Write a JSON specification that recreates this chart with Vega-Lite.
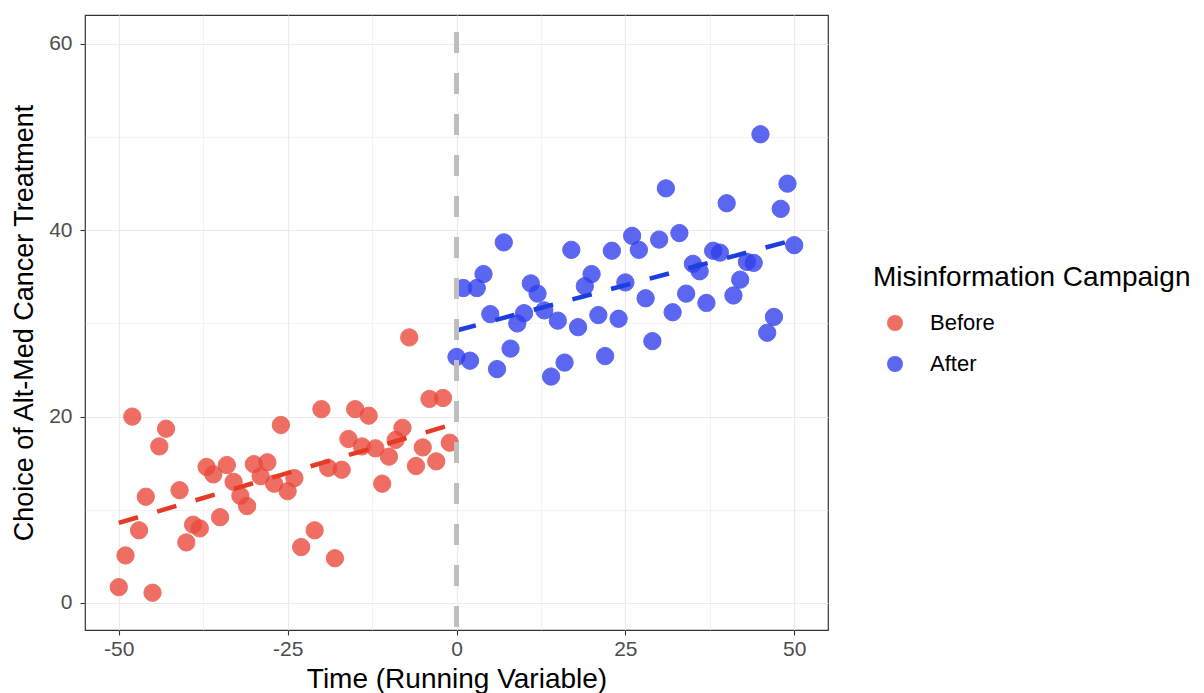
{
  "$schema": "https://vega.github.io/schema/vega-lite/v6.json",
  "width": 743,
  "height": 615,
  "autosize": {"type": "none"},
  "padding": {"left": 85, "top": 15, "right": 376, "bottom": 63},
  "background": "white",
  "config": {
    "font": "Liberation Sans",
    "view": {"stroke": "#333333", "strokeWidth": 1.2},
    "axis": {
      "domain": false,
      "tickColor": "#333333",
      "tickSize": 5,
      "tickWidth": 1.1,
      "labelColor": "#4d4d4d",
      "labelFontSize": 21,
      "titleFontSize": 27,
      "titleFontWeight": "normal",
      "titleColor": "#000000",
      "gridColor": "#ebebeb"
    },
    "legend": {
      "titleFontSize": 28,
      "titleFontWeight": "normal",
      "titleColor": "#000000",
      "titleLimit": 1000,
      "labelFontSize": 22,
      "labelColor": "#000000"
    }
  },
  "data": {
    "values": [
      {"x": -50, "y": 1.7, "group": "Before"},
      {"x": -49, "y": 5.1, "group": "Before"},
      {"x": -48, "y": 20.0, "group": "Before"},
      {"x": -47, "y": 7.8, "group": "Before"},
      {"x": -46, "y": 11.4, "group": "Before"},
      {"x": -45, "y": 1.1, "group": "Before"},
      {"x": -44, "y": 16.8, "group": "Before"},
      {"x": -43, "y": 18.7, "group": "Before"},
      {"x": -41, "y": 12.1, "group": "Before"},
      {"x": -40, "y": 6.5, "group": "Before"},
      {"x": -39, "y": 8.4, "group": "Before"},
      {"x": -38, "y": 8.0, "group": "Before"},
      {"x": -37, "y": 14.6, "group": "Before"},
      {"x": -36, "y": 13.8, "group": "Before"},
      {"x": -35, "y": 9.2, "group": "Before"},
      {"x": -34, "y": 14.8, "group": "Before"},
      {"x": -33, "y": 13.0, "group": "Before"},
      {"x": -32, "y": 11.5, "group": "Before"},
      {"x": -31, "y": 10.4, "group": "Before"},
      {"x": -30, "y": 14.9, "group": "Before"},
      {"x": -29, "y": 13.6, "group": "Before"},
      {"x": -28, "y": 15.1, "group": "Before"},
      {"x": -27, "y": 12.8, "group": "Before"},
      {"x": -26, "y": 19.1, "group": "Before"},
      {"x": -25, "y": 12.0, "group": "Before"},
      {"x": -24, "y": 13.4, "group": "Before"},
      {"x": -23, "y": 6.0, "group": "Before"},
      {"x": -21, "y": 7.8, "group": "Before"},
      {"x": -20, "y": 20.8, "group": "Before"},
      {"x": -19, "y": 14.5, "group": "Before"},
      {"x": -18, "y": 4.8, "group": "Before"},
      {"x": -17, "y": 14.3, "group": "Before"},
      {"x": -16, "y": 17.6, "group": "Before"},
      {"x": -15, "y": 20.8, "group": "Before"},
      {"x": -14, "y": 16.8, "group": "Before"},
      {"x": -13, "y": 20.1, "group": "Before"},
      {"x": -12, "y": 16.6, "group": "Before"},
      {"x": -11, "y": 12.8, "group": "Before"},
      {"x": -10, "y": 15.7, "group": "Before"},
      {"x": -9, "y": 17.5, "group": "Before"},
      {"x": -8, "y": 18.8, "group": "Before"},
      {"x": -7, "y": 28.5, "group": "Before"},
      {"x": -6, "y": 14.7, "group": "Before"},
      {"x": -5, "y": 16.7, "group": "Before"},
      {"x": -4, "y": 21.9, "group": "Before"},
      {"x": -3, "y": 15.2, "group": "Before"},
      {"x": -2, "y": 22.0, "group": "Before"},
      {"x": -1, "y": 17.2, "group": "Before"},
      {"x": 0, "y": 26.4, "group": "After"},
      {"x": 1, "y": 33.8, "group": "After"},
      {"x": 2, "y": 26.0, "group": "After"},
      {"x": 3, "y": 33.8, "group": "After"},
      {"x": 4, "y": 35.3, "group": "After"},
      {"x": 5, "y": 31.0, "group": "After"},
      {"x": 6, "y": 25.1, "group": "After"},
      {"x": 7, "y": 38.7, "group": "After"},
      {"x": 8, "y": 27.3, "group": "After"},
      {"x": 9, "y": 30.0, "group": "After"},
      {"x": 10, "y": 31.1, "group": "After"},
      {"x": 11, "y": 34.3, "group": "After"},
      {"x": 12, "y": 33.2, "group": "After"},
      {"x": 13, "y": 31.4, "group": "After"},
      {"x": 14, "y": 24.3, "group": "After"},
      {"x": 15, "y": 30.3, "group": "After"},
      {"x": 16, "y": 25.8, "group": "After"},
      {"x": 17, "y": 37.9, "group": "After"},
      {"x": 18, "y": 29.6, "group": "After"},
      {"x": 19, "y": 34.0, "group": "After"},
      {"x": 20, "y": 35.3, "group": "After"},
      {"x": 21, "y": 30.9, "group": "After"},
      {"x": 22, "y": 26.5, "group": "After"},
      {"x": 23, "y": 37.8, "group": "After"},
      {"x": 24, "y": 30.5, "group": "After"},
      {"x": 25, "y": 34.4, "group": "After"},
      {"x": 26, "y": 39.4, "group": "After"},
      {"x": 27, "y": 37.9, "group": "After"},
      {"x": 28, "y": 32.7, "group": "After"},
      {"x": 29, "y": 28.1, "group": "After"},
      {"x": 30, "y": 39.0, "group": "After"},
      {"x": 31, "y": 44.5, "group": "After"},
      {"x": 32, "y": 31.2, "group": "After"},
      {"x": 33, "y": 39.7, "group": "After"},
      {"x": 34, "y": 33.2, "group": "After"},
      {"x": 35, "y": 36.4, "group": "After"},
      {"x": 36, "y": 35.6, "group": "After"},
      {"x": 37, "y": 32.2, "group": "After"},
      {"x": 38, "y": 37.8, "group": "After"},
      {"x": 39, "y": 37.6, "group": "After"},
      {"x": 40, "y": 42.9, "group": "After"},
      {"x": 41, "y": 33.0, "group": "After"},
      {"x": 42, "y": 34.7, "group": "After"},
      {"x": 43, "y": 36.6, "group": "After"},
      {"x": 44, "y": 36.5, "group": "After"},
      {"x": 45, "y": 50.3, "group": "After"},
      {"x": 46, "y": 29.0, "group": "After"},
      {"x": 47, "y": 30.7, "group": "After"},
      {"x": 48, "y": 42.3, "group": "After"},
      {"x": 49, "y": 45.0, "group": "After"},
      {"x": 50, "y": 38.4, "group": "After"}
    ]
  },
  "layer": [
    {
      "mark": {"type": "circle", "size": 300, "opacity": 0.8, "strokeWidth": 1},
      "encoding": {
        "x": {
          "field": "x",
          "type": "quantitative",
          "scale": {"domain": [-55, 55], "nice": false, "zero": false},
          "axis": {
            "title": "Time (Running Variable)",
            "titleFontSize": 28,
            "values": [-50, -37.5, -25, -12.5, 0, 12.5, 25, 37.5, 50],
            "labelExpr": "datum.value % 25 === 0 ? '' + datum.value : ''",
            "tickOpacity": {"condition": {"test": "datum.value % 25 === 0", "value": 1}, "value": 0},
            "gridWidth": {"condition": {"test": "datum.value % 25 === 0", "value": 1.2}, "value": 0.6},
            "labelPadding": 3,
            "titlePadding": 6
          }
        },
        "y": {
          "field": "y",
          "type": "quantitative",
          "scale": {"domain": [-2.9, 63.1], "nice": false, "zero": false},
          "axis": {
            "title": "Choice of Alt-Med Cancer Treatment",
            "values": [0, 10, 20, 30, 40, 50, 60],
            "labelExpr": "datum.value % 20 === 0 ? '' + datum.value : ''",
            "tickOpacity": {"condition": {"test": "datum.value % 20 === 0", "value": 1}, "value": 0},
            "gridWidth": {"condition": {"test": "datum.value % 20 === 0", "value": 1.2}, "value": 0.6},
            "labelPadding": 8,
            "titlePadding": 10
          }
        },
        "color": {
          "field": "group",
          "type": "nominal",
          "scale": {"domain": ["Before", "After"], "range": ["#EA4B3D", "#3340EE"]},
          "legend": {
            "title": "Misinformation Campaign",
            "orient": "none",
            "legendX": 788,
            "legendY": 249,
            "padding": 0,
            "titlePadding": 20,
            "rowPadding": 19,
            "symbolOffset": 11,
            "labelOffset": 24,
            "symbolSize": 255,
            "symbolOpacity": 0.8,
            "symbolStrokeWidth": 1
          }
        },
        "stroke": {
          "field": "group",
          "type": "nominal",
          "scale": {"domain": ["Before", "After"], "range": ["#EA4B3D", "#3340EE"]},
          "legend": null
        }
      }
    },
    {
      "transform": [{"regression": "y", "on": "x", "groupby": ["group"]}],
      "mark": {"type": "line", "strokeWidth": 4.5, "strokeDash": [20, 20]},
      "encoding": {
        "x": {"field": "x", "type": "quantitative"},
        "y": {"field": "y", "type": "quantitative"},
        "stroke": {
          "field": "group",
          "type": "nominal",
          "scale": {"domain": ["Before", "After"], "range": ["#E53A25", "#1E3FE0"]},
          "legend": null
        }
      }
    },
    {
      "data": {"values": [{"x": 0}]},
      "mark": {"type": "rule", "color": "#bebebe", "strokeWidth": 5, "strokeDash": [21, 20], "strokeDashOffset": 24},
      "encoding": {"x": {"field": "x", "type": "quantitative"}}
    }
  ],
  "resolve": {"scale": {"stroke": "independent"}}
}
